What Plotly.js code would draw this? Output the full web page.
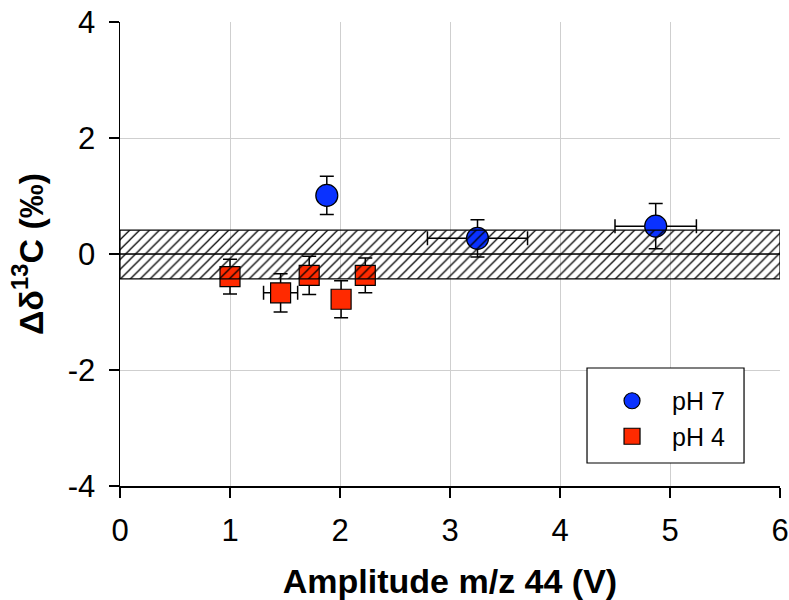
<!DOCTYPE html>
<html>
<head>
<meta charset="utf-8">
<script src="https://cdn.plot.ly/plotly-3.0.1.min.js"></script>
<style>html,body{margin:0;padding:0;background:#fff;}#chart{width:789px;height:600px;}</style>
</head>
<body>
<div id="chart"></div>
<script>
// pH 7 series
var ph7X = [1.88, 3.25, 4.87];
var ph7Y = [1.01, 0.27, 0.48];
var ph7XErr = [0, 0.455, 0.37];
var ph7YErr = [0.33, 0.32, 0.39];
// pH 4 series
var ph4X = [1.0, 1.46, 1.72, 2.01, 2.23];
var ph4Y = [-0.39, -0.67, -0.37, -0.78, -0.37];
var ph4XErr = [0, 0.155, 0, 0, 0];
var ph4YErr = [0.30, 0.33, 0.33, 0.32, 0.30];
// uncertainty band
var bandX = [0, 6, 6, 0, 0];
var bandY = [0.41, 0.41, -0.43, -0.43, 0.41];
var zeroX = [0, 6];
var zeroY = [0, 0];
var xTicks = [0, 1, 2, 3, 4, 5, 6];
var yTicks = [-4, -2, 0, 2, 4];

var FONT = 'Arial, "Liberation Sans", sans-serif';
var errStyle = {color: '#000', thickness: 1.5, width: 7};

var traces = [
  {
    x: ph7X, y: ph7Y, type: 'scatter', mode: 'markers', name: 'pH 7',
    marker: {symbol: 'circle', size: 22, color: '#0a32ff', line: {color: '#000', width: 1.2}},
    error_y: Object.assign({type: 'data', array: ph7YErr, visible: true}, errStyle),
    error_x: Object.assign({type: 'data', array: ph7XErr, visible: true}, errStyle)
  },
  {
    x: ph4X, y: ph4Y, type: 'scatter', mode: 'markers', name: 'pH 4',
    marker: {symbol: 'square', size: 20, color: '#ff2a00', line: {color: '#000', width: 1.2}},
    error_y: Object.assign({type: 'data', array: ph4YErr, visible: true}, errStyle),
    error_x: Object.assign({type: 'data', array: ph4XErr, visible: true}, errStyle)
  },
  {
    x: bandX, y: bandY, type: 'scatter', mode: 'lines', fill: 'toself', showlegend: false,
    hoverinfo: 'skip', cliponaxis: false,
    line: {color: '#000', width: 1.2},
    fillcolor: 'rgba(0,0,0,0)',
    fillpattern: {shape: '/', fgcolor: '#000', bgcolor: 'rgba(0,0,0,0)', size: 7, solidity: 0.18}
  },
  {
    x: zeroX, y: zeroY, type: 'scatter', mode: 'lines', showlegend: false, hoverinfo: 'skip',
    line: {color: '#000', width: 1.5}
  }
];

var layout = {
  width: 789, height: 600,
  margin: {l: 120, r: 9, t: 22, b: 114},
  paper_bgcolor: '#fff', plot_bgcolor: '#fff',
  font: {family: FONT, color: '#000', size: 24},
  showlegend: true,
  legend: {
    x: 0.7152, y: 0.2328, xanchor: 'left', yanchor: 'top',
    borderwidth: 0, bgcolor: 'rgba(0,0,0,0)',
    font: {family: FONT, size: 25, color: '#000'},
    itemwidth: 70, tracegroupgap: 0
  },
  shapes: [
    {type: 'rect', xref: 'paper', yref: 'paper', x0: 0.7076, x1: 0.9455, y0: 0.0496, y1: 0.2543,
     line: {color: '#000', width: 1.2}, fillcolor: '#fff', layer: 'above'}
  ],
  xaxis: {
    range: [0, 6], tickvals: xTicks, ticktext: xTicks.map(String),
    showgrid: true, gridcolor: '#cfcfcf', gridwidth: 1,
    zeroline: false, showline: true, linecolor: '#000', linewidth: 1.5,
    ticks: 'outside', ticklen: 10, tickwidth: 1.5, tickcolor: '#000',
    ticklabelstandoff: 6,
    tickfont: {family: FONT, size: 31},
    title: {text: 'Amplitude m/z 44 (V)', font: {family: FONT, size: 34, weight: 'bold'}, standoff: 22}
  },
  yaxis: {
    range: [-4, 4], tickvals: yTicks, ticktext: yTicks.map(String),
    showgrid: true, gridcolor: '#cfcfcf', gridwidth: 1,
    zeroline: false, showline: true, linecolor: '#000', linewidth: 1.5,
    ticks: 'outside', ticklen: 10, tickwidth: 1.5, tickcolor: '#000',
    ticklabelstandoff: 7,
    tickfont: {family: FONT, size: 31},
    title: {text: 'Δδ<sup>13</sup>C (‰)', font: {family: FONT, size: 34, weight: 'bold'}, standoff: 14}
  }
};

Plotly.newPlot('chart', traces, layout, {displayModeBar: false, staticPlot: true});
</script>
</body>
</html>
